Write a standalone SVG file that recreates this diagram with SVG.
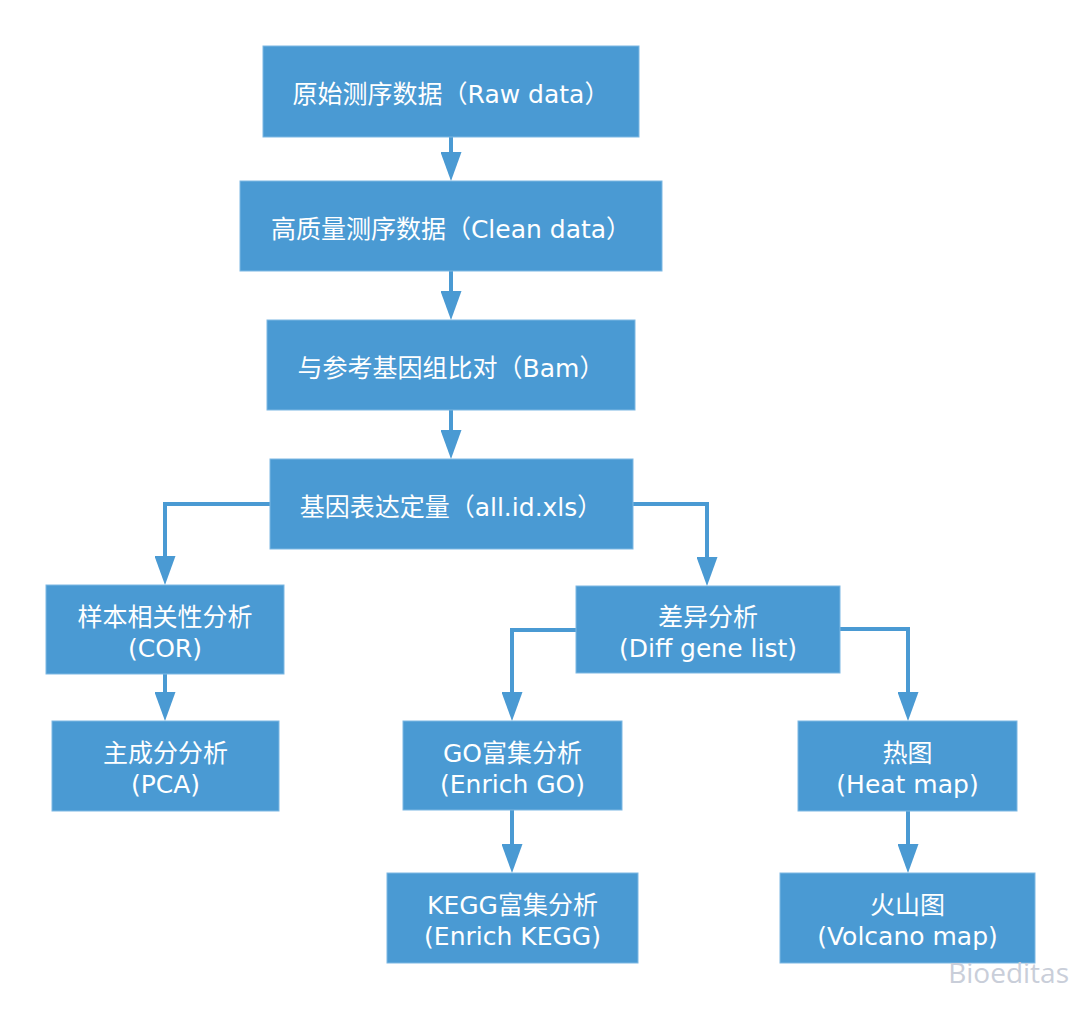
<svg xmlns="http://www.w3.org/2000/svg" width="1080" height="1010" viewBox="0 0 1080 1010">
<style>
.box{fill:#4A9AD3;stroke:#7DB8E3;stroke-width:1}
.t{font-family:"DejaVu Sans","Noto Sans CJK SC",sans-serif;font-size:25px;fill:#FFFFFF;text-anchor:middle}
.c{fill:none;stroke:#4A9AD3;stroke-width:4}
.wm{font-family:"Open Sans","DejaVu Sans",sans-serif;font-size:28px;fill:#C9CED9;text-anchor:end}
</style>
<defs>
<marker id="ah" markerUnits="userSpaceOnUse" viewBox="0 0 29 21" refX="9" refY="10.5" markerWidth="29" markerHeight="21" orient="auto">
<path d="M0,0 L29,10.5 L0,21 Z" fill="#4A9AD3"/>
</marker>
</defs>
<rect width="1080" height="1010" fill="#FFFFFF"/>
<g id="connectors">
<path class="c" d="M451,137 V161" marker-end="url(#ah)"/>
<path class="c" d="M451,271 V300" marker-end="url(#ah)"/>
<path class="c" d="M451,410 V439" marker-end="url(#ah)"/>
<path class="c" d="M270,504 H165 V565" marker-end="url(#ah)"/>
<path class="c" d="M633,504 H707 V566" marker-end="url(#ah)"/>
<path class="c" d="M165,674 V701" marker-end="url(#ah)"/>
<path class="c" d="M576,630 H512 V701" marker-end="url(#ah)"/>
<path class="c" d="M840,629 H908 V701" marker-end="url(#ah)"/>
<path class="c" d="M512,810 V853" marker-end="url(#ah)"/>
<path class="c" d="M908,811 V853" marker-end="url(#ah)"/>
</g>
<g id="raw"><rect class="box" x="263" y="46" width="376" height="91"/><text class="t" x="451" y="103">原始测序数据（Raw data）</text></g>
<g id="clean"><rect class="box" x="240" y="181" width="422" height="90"/><text class="t" x="451" y="238">高质量测序数据（Clean data）</text></g>
<g id="bam"><rect class="box" x="267" y="320" width="368" height="90"/><text class="t" x="451" y="377">与参考基因组比对（Bam）</text></g>
<g id="expr"><rect class="box" x="270" y="459" width="363" height="90"/><text class="t" x="451" y="516">基因表达定量（all.id.xls）</text></g>
<g id="cor"><rect class="box" x="46" y="585" width="238" height="89"/><text class="t" x="165" y="626">样本相关性分析</text><text class="t" x="165" y="657">(COR)</text></g>
<g id="pca"><rect class="box" x="52" y="721" width="227" height="90"/><text class="t" x="165.5" y="762">主成分分析</text><text class="t" x="165.5" y="793">(PCA)</text></g>
<g id="diff"><rect class="box" x="576" y="586" width="264" height="87"/><text class="t" x="708" y="626">差异分析</text><text class="t" x="708" y="657">(Diff gene list)</text></g>
<g id="go"><rect class="box" x="403" y="721" width="219" height="89"/><text class="t" x="512.5" y="762">GO富集分析</text><text class="t" x="512.5" y="793">(Enrich GO)</text></g>
<g id="heat"><rect class="box" x="798" y="721" width="219" height="90"/><text class="t" x="907.5" y="762">热图</text><text class="t" x="907.5" y="793">(Heat map)</text></g>
<g id="kegg"><rect class="box" x="387" y="873" width="251" height="90"/><text class="t" x="512.5" y="914">KEGG富集分析</text><text class="t" x="512.5" y="945">(Enrich KEGG)</text></g>
<g id="volcano"><rect class="box" x="780" y="873" width="255" height="90"/><text class="t" x="907.5" y="914">火山图</text><text class="t" x="907.5" y="945">(Volcano map)</text></g>
<text class="wm" x="1069" y="983">Bioeditas</text>
</svg>
